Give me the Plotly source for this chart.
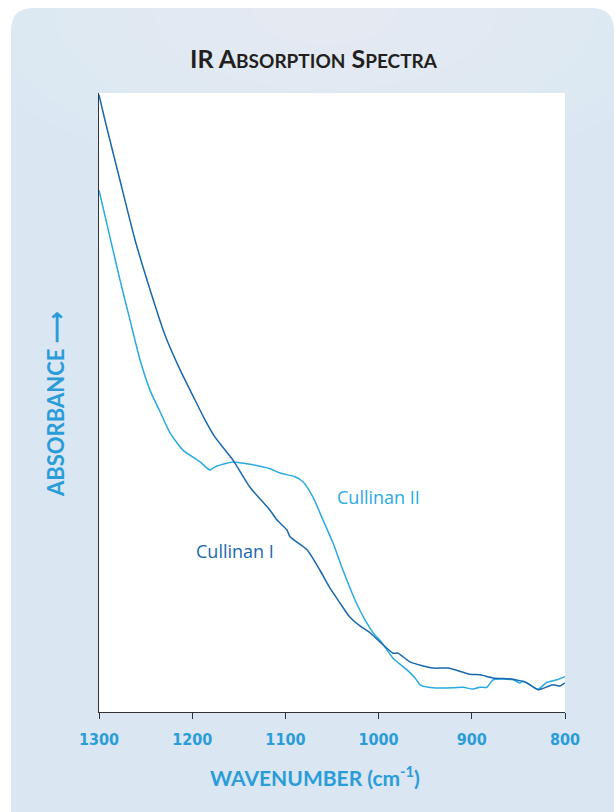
import plotly.graph_objects as go

# Cullinan I (dark blue)
wn_c1 = [1300, 1293.6, 1277.5, 1261.4, 1248.5, 1229.2, 1213.1, 1197.0, 1186.3, 1175.5,
         1156.2, 1138.0, 1116.5, 1109.0, 1098.3, 1095.0, 1076.8, 1062.9, 1052.1, 1041.4,
         1030.7, 1020.0, 1009.2, 998.5, 984.5, 979.2, 966.3, 941.6, 925.5, 901.9,
         891.2, 877.2, 855.8, 840.7, 828.9, 812.8, 805.3, 800]
abs_c1 = [99.7, 95.6, 85.9, 76.3, 69.8, 60.9, 55.3, 50.4, 47.2, 44.4,
          40.7, 36.3, 32.6, 31.0, 29.4, 28.3, 26.2, 22.9, 20.0, 17.6,
          15.3, 13.9, 12.8, 11.3, 9.5, 9.5, 8.1, 7.1, 7.1, 6.1,
          6.0, 5.5, 5.3, 4.7, 3.6, 4.4, 4.2, 4.7]

# Cullinan II (light blue)
wn_c2 = [1300, 1277.5, 1266.7, 1256.0, 1245.3, 1234.5, 1223.8, 1209.9, 1191.6, 1180.9,
         1175.5, 1156.2, 1141.2, 1116.5, 1105.8, 1089.7, 1081.1, 1070.4, 1059.6, 1048.9,
         1038.2, 1025.3, 1014.6, 1003.8, 998.5, 984.5, 969.5, 960.9, 955.6, 941.6,
         920.1, 909.4, 898.7, 891.2, 883.7, 877.2, 855.8, 848.3, 845.0, 828.9,
         819.3, 808.6, 800]
abs_c2 = [84.3, 69.8, 63.3, 56.9, 52.0, 48.5, 45.1, 42.3, 40.4, 39.1,
          39.6, 40.4, 40.1, 39.3, 38.6, 38.0, 37.2, 34.7, 31.0, 27.3,
          22.9, 18.1, 14.9, 12.4, 11.6, 8.7, 6.8, 5.5, 4.4, 3.9,
          3.9, 4.0, 3.7, 4.0, 4.0, 5.2, 5.2, 4.7, 5.0, 3.7,
          4.8, 5.2, 5.7]

tick_vals = [1300, 1200, 1100, 1000, 900, 800]
tick_text = ["1300", "1200", "1100", "1000", "900", "800"]

DARK = "#1868ae"
LIGHT = "#29aae1"
LABEL = "#2a9dd8"

fig = go.Figure()
fig.add_trace(go.Scatter(x=wn_c2, y=abs_c2, mode="lines", line=dict(color=LIGHT, width=1.5, shape="spline", smoothing=0.6),
                         name="Cullinan II", showlegend=False, hoverinfo="skip"))
fig.add_trace(go.Scatter(x=wn_c1, y=abs_c1, mode="lines", line=dict(color=DARK, width=1.5, shape="spline", smoothing=0.6),
                         name="Cullinan I", showlegend=False, hoverinfo="skip"))

W, H = 616, 812
L, R, T, B = 99, 565, 93, 712
def px(x):
    return (x - L) / (R - L)
def py(y):
    return (B - y) / (B - T)

# rounded panel path in paper coords
r = 22
x0, x1, y0, y1 = 11, 614, 8, 830
path = (f"M {px(x0)},{py(y1)} L {px(x0)},{py(y0 + r)} "
        f"Q {px(x0)},{py(y0)} {px(x0 + r)},{py(y0)} "
        f"L {px(x1 - r)},{py(y0)} Q {px(x1)},{py(y0)} {px(x1)},{py(y0 + r)} "
        f"L {px(x1)},{py(y1)} Z")

shapes = [dict(type="path", xref="paper", yref="paper", path=path,
               fillcolor="#dae6f2", line=dict(width=0), layer="below")]
# subtle light glow near top center (many faint layers for a soft gradient)
for k in range(10):
    f = 1 - k / 10
    rx, ry = 330 * f + 40, 150 * f + 20
    shapes.append(dict(type="circle", xref="paper", yref="paper",
                       x0=px(325 - rx), x1=px(325 + rx), y0=py(10 + ry), y1=py(10 - ry),
                       fillcolor="white", opacity=0.045, line=dict(width=0), layer="below"))
# re-cover outside the rounded corners with white
shapes.append(dict(type="path", xref="paper", yref="paper",
                   path=(f"M {px(0)},{py(0)} L {px(0)},{py(y0 + r)} L {px(x0)},{py(y0 + r)} "
                         f"Q {px(x0)},{py(y0)} {px(x0 + r)},{py(y0)} L {px(x1 - r)},{py(y0)} "
                         f"Q {px(x1)},{py(y0)} {px(x1)},{py(y0 + r)} L {px(W)},{py(y0 + r)} L {px(W)},{py(0)} Z"),
                   fillcolor="white", line=dict(width=0), layer="below"))
shapes.append(dict(type="rect", xref="paper", yref="paper",
                   x0=px(0), x1=px(x0), y0=py(H + 20), y1=py(0),
                   fillcolor="white", line=dict(width=0), layer="below"))
shapes.append(dict(type="rect", xref="paper", yref="paper",
                   x0=px(x1), x1=px(W + 20), y0=py(H + 20), y1=py(0),
                   fillcolor="white", line=dict(width=0), layer="below"))
# white plot area
shapes.append(dict(type="rect", xref="paper", yref="paper",
                   x0=0, x1=1, y0=0, y1=1,
                   fillcolor="white", line=dict(width=0), layer="below"))

fig.update_layout(
    width=W, height=H,
    margin=dict(l=L, r=W - R, t=T, b=H - B),
    paper_bgcolor="white",
    plot_bgcolor="rgba(0,0,0,0)",
    shapes=shapes,
    xaxis=dict(range=[1300, 800], tickvals=tick_vals, ticktext=tick_text,
               ticks="outside", ticklen=6, tickwidth=1.3, tickcolor="#333333",
               ticklabelstandoff=7,
               showline=True, linecolor="#333333", linewidth=1.3, showgrid=False, zeroline=False,
               tickfont=dict(family="Liberation Sans Narrow, DejaVu Sans Condensed, Roboto", size=16, color=LABEL, weight="bold")),
    yaxis=dict(range=[0, 100], showticklabels=False, ticks="", showline=True,
               linecolor="#333333", linewidth=1.3, showgrid=False, zeroline=False),
    annotations=[
        dict(text="IR A<span style='font-size:19px'>BSORPTION</span> S<span style='font-size:19px'>PECTRA</span>",
             xref="paper", yref="paper", x=px(314), y=py(58), xanchor="center", yanchor="middle", showarrow=False,
             font=dict(family="Lato, Open Sans", size=25, color="#231f20", weight="bold")),
        dict(text="WAVENUMBER (cm<sup>-1</sup>)", xref="paper", yref="paper",
             x=px(315), y=py(776), xanchor="center", yanchor="middle", showarrow=False,
             font=dict(family="Lato, Open Sans", size=21, color=LABEL, weight="bold")),
        dict(text="ABSORBANCE \u27f6", xref="paper", yref="paper", textangle=-90,
             x=px(55), y=py(404), xanchor="center", yanchor="middle", showarrow=False,
             font=dict(family="Lato, Open Sans", size=22, color=LABEL, weight="bold")),
        dict(text="Cullinan I", x=1154.6, y=26.0, xref="x", yref="y", showarrow=False,
             font=dict(family="Open Sans, Noto Sans", size=18, color=DARK)),
        dict(text="Cullinan II", x=1000.5, y=34.7, xref="x", yref="y", showarrow=False,
             font=dict(family="Open Sans, Noto Sans", size=18, color=LIGHT)),
    ],
)

fig.write_html("out.html", config={"displayModeBar": False},
               post_script="document.body.style.margin='0';")
